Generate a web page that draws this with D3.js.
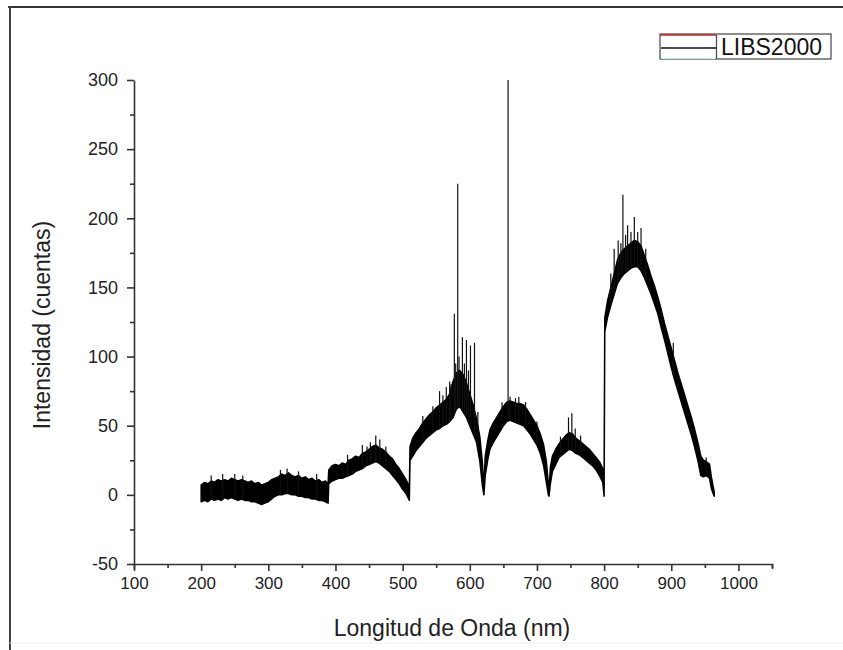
<!DOCTYPE html>
<html>
<head>
<meta charset="utf-8">
<script src="https://cdn.jsdelivr.net/npm/d3@7"></script>
<style>
  body { margin: 0; background: #fff; }
  text { font-family: "Liberation Sans", Arial, sans-serif; }
</style>
</head>
<body>
<div id="chart"></div>
<script>
// longitud de onda (nm) y envolvente de la banda de ruido (cuentas)
const wl = [200,205,210,215,220,225,230,235,240,245,250,255,260,265,270,275,280,285,290,295,300,305,310,315,320,325,330,335,340,345,350,355,360,365,370,375,380,385,389,
  390,395,400,405,410,415,420,425,430,435,440,445,450,455,460,465,470,475,480,485,490,495,500,505,509,510,
  511,515,520,525,530,535,540,545,550,555,560,565,570,575,580,585,590,595,600,605,610,615,619,621,
  623,627,630,635,640,645,650,655,660,665,670,675,680,685,690,695,700,705,710,714,717,718,
  720,723,728,733,738,743,748,753,758,763,768,773,778,783,788,793,798,800,
  801,805,810,815,820,825,830,835,840,845,850,855,860,865,870,875,880,885,890,895,900,905,910,915,920,925,930,935,940,944,948,952,957,960,964]
const hi = [7,9,8,10,9,11,10,11,10,12,11,10,11,10,9,10,8,9,7,8,9,11,12,13,15,14,16,14,13,14,12,13,11,12,10,11,9,10,8,
  18,21,22,21,23,22,25,26,28,27,30,31,33,35,36,34,33,31,28,26,22,19,15,11,7,4,
  35,41,45,48,52,55,58,60,63,65,67,69,73,82,88,90,87,81,73,65,55,42,22,4,
  28,40,47,52,56,60,64,67,68,67,66,66,65,62,58,54,50,44,36,24,8,3,
  20,28,33,37,40,43,45,44,41,39,37,35,33,30,27,24,19,12,
  128,140,150,160,170,175,178,180,182,184,183,180,173,166,158,151,143,134,124,115,106,97,88,80,72,64,56,47,37,28,25,24,22,12,2]
const lo = [-5,-4,-5,-3,-4,-3,-4,-2,-3,-2,-3,-4,-3,-4,-4,-5,-5,-6,-7,-6,-5,-3,-1,0,0,1,1,0,0,-1,-1,-2,-2,-3,-3,-4,-4,-5,-6,
  8,10,11,12,12,13,14,15,17,18,19,21,22,23,24,23,21,19,17,14,11,8,4,1,-3,-4,
  25,28,32,35,38,41,43,45,47,48,50,51,53,56,62,64,60,56,50,44,38,24,6,0,
  14,26,33,38,42,46,50,53,54,53,52,51,50,47,44,40,36,30,21,9,0,-1,
  8,17,22,27,29,31,33,32,30,29,27,25,23,21,18,14,9,-1,
  118,128,137,145,153,157,160,162,164,165,165,162,157,151,145,138,131,121,112,102,92,83,75,67,59,51,43,34,24,14,13,14,12,4,-1]

// picos de emisión y picos de ruido
const spikeWl  = [582,657,828,577,589,595,601,607,845,855,821,835,815,673,747,752,460,555,565,570,
  215,232,250,262,318,328,345,372,418,440,447,452,466,475,530,545,560,572,579,584,592,598,612,
  648,660,668,683,700,735,757,765,810,825,832,840,850,862,903,952]
const spikeTop = [225,300,217,131,114,112,108,110,201,193,184,195,178,71,56,59,43,75,78,82,
  14,15,15,14,18,19,17,15,29,36,35,38,40,35,57,64,72,80,95,100,95,90,60,
  67,71,70,67,53,42,48,43,160,182,188,190,190,178,110,27]

const yTicks = [-50,0,50,100,150,200,250,300]
const xTicks = [100,200,300,400,500,600,700,800,900,1000]
const seriesName = "LIBS2000"

const W = 843, H = 650
const svg = d3.select("#chart").append("svg")
    .attr("width", W)
    .attr("height", H)

// marco exterior
svg.append("line").attr("x1", 8).attr("x2", W).attr("y1", 7).attr("y2", 7)
    .attr("stroke", "#333").attr("stroke-width", 2)
svg.append("line").attr("x1", 10).attr("x2", 10).attr("y1", 6).attr("y2", H)
    .attr("stroke", "#444").attr("stroke-width", 2)
svg.append("line").attr("x1", 10).attr("x2", W).attr("y1", 643).attr("y2", 643)
    .attr("stroke", "#eee").attr("stroke-width", 1)

const x = d3.scaleLinear().domain([100, 1050]).range([134, 772])
const y = d3.scaleLinear().domain([-50, 300]).range([564, 80])

const pts = wl.map((d, i) => ({ w: d, hi: hi[i], lo: lo[i] }))

const area = d3.area()
    .x(d => x(d.w))
    .y0(d => y(d.lo))
    .y1(d => y(d.hi))

svg.append("path")
    .datum(pts)
    .attr("d", area)
    .attr("fill", "#000")
    .attr("stroke", "#000")
    .attr("stroke-width", 1.5)
    .attr("stroke-linejoin", "round")

const loAt = d3.scaleLinear().domain(wl).range(lo)
svg.selectAll(".spike")
    .data(spikeWl)
    .enter().append("line")
    .attr("class", "spike")
    .attr("x1", d => x(d)).attr("x2", d => x(d))
    .attr("y1", d => y(loAt(d)))
    .attr("y2", (d, i) => y(spikeTop[i]))
    .attr("stroke", "#111")
    .attr("stroke-width", 1.2)

// ejes
const axisColor = "#333"
const fmt = d => String(d)
const gx = svg.append("g").attr("transform", `translate(0, ${y(-50)})`)
    .call(d3.axisBottom(x).tickValues(xTicks).tickFormat(fmt).tickSize(7).tickSizeOuter(5).tickPadding(6))
const gxm = svg.append("g").attr("transform", `translate(0, ${y(-50)})`)
    .call(d3.axisBottom(x).tickValues(xTicks.map(v => v + 50)).tickSize(4).tickFormat(""))
gxm.select(".domain").remove()

const gy = svg.append("g").attr("transform", `translate(${x(100)}, 0)`)
    .call(d3.axisLeft(y).tickValues(yTicks).tickFormat(fmt).tickSize(7).tickSizeOuter(0).tickPadding(9))
const gym = svg.append("g").attr("transform", `translate(${x(100)}, 0)`)
    .call(d3.axisLeft(y).tickValues(yTicks.slice(0, -1).map(v => v + 25)).tickSize(4).tickFormat(""))
gym.select(".domain").remove()

svg.selectAll(".domain, .tick line").attr("stroke", axisColor).attr("stroke-width", 1.6)
svg.selectAll(".tick text").attr("fill", "#222").style("font-size", "17px")
gy.selectAll(".tick text").style("font-size", "18px")

svg.append("text")
    .attr("x", 452).attr("y", 636)
    .attr("text-anchor", "middle")
    .style("font-size", "23px").attr("fill", "#222")
    .text("Longitud de Onda (nm)")

svg.append("text")
    .attr("transform", `translate(50, 325) rotate(-90)`)
    .attr("text-anchor", "middle")
    .style("font-size", "23px").attr("fill", "#222")
    .text("Intensidad (cuentas)")

// leyenda
const lg = svg.append("g")
lg.append("rect").attr("x", 660).attr("y", 34).attr("width", 171).attr("height", 25)
    .attr("fill", "none").attr("stroke", "#444").attr("stroke-width", 1.2)
lg.append("line").attr("x1", 660).attr("x2", 716).attr("y1", 35).attr("y2", 35)
    .attr("stroke", "#c0202a").attr("stroke-width", 1.5)
lg.append("line").attr("x1", 661).attr("x2", 716).attr("y1", 48).attr("y2", 48)
    .attr("stroke", "#111").attr("stroke-width", 1.5)
lg.append("line").attr("x1", 661).attr("x2", 716).attr("y1", 58.5).attr("y2", 58.5)
    .attr("stroke", "#bfeff0").attr("stroke-width", 1)
lg.append("line").attr("x1", 716.5).attr("x2", 716.5).attr("y1", 35).attr("y2", 59)
    .attr("stroke", "#444").attr("stroke-width", 1.2)
lg.append("text").attr("x", 721).attr("y", 55)
    .style("font-size", "23px").attr("fill", "#111")
    .text(seriesName)
</script>
</body>
</html>
